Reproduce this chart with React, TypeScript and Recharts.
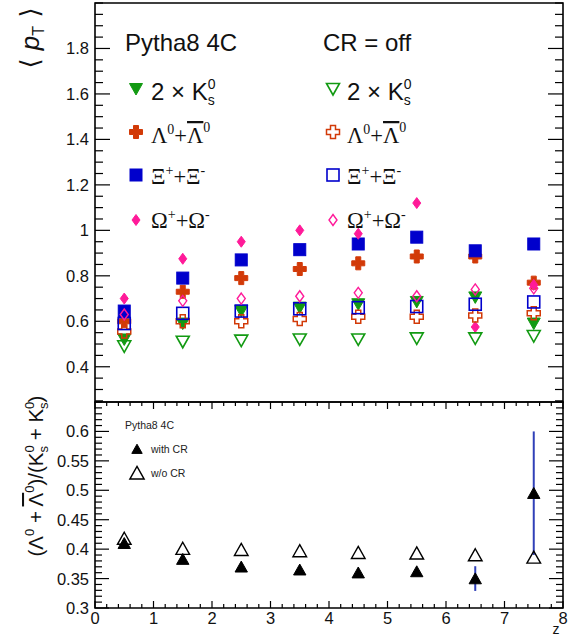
import React from 'react';
import { ScatterChart, Scatter, XAxis, YAxis, ReferenceArea, ErrorBar } from 'recharts';

// bin centres in z
const zBins = [0.5, 1.5, 2.5, 3.5, 4.5, 5.5, 6.5, 7.5];

// <pT>, CR on
const k0sCR = [0.52, 0.59, 0.645, 0.66, 0.675, 0.685, 0.705, 0.59];
const lambdaCR = [0.6, 0.73, 0.79, 0.83, 0.855, 0.885, 0.885, 0.77];
const xiCR = [0.645, 0.79, 0.87, 0.915, 0.94, 0.97, 0.91, 0.94];
const omegaCR = [0.7, 0.875, 0.95, 1.0, 0.985, 1.12, 0.575, 0.76];

// <pT>, CR off
const k0sNoCR = [0.49, 0.51, 0.515, 0.52, 0.52, 0.525, 0.525, 0.535];
const lambdaNoCR = [0.555, 0.6, 0.6, 0.61, 0.62, 0.62, 0.625, 0.635];
const xiNoCR = [0.59, 0.635, 0.645, 0.655, 0.66, 0.665, 0.675, 0.685];
const omegaNoCR = [0.63, 0.69, 0.7, 0.71, 0.725, 0.71, 0.74, 0.745];

// (L + Lbar) / (K0s + K0s)
const ratioCR = [0.41, 0.383, 0.37, 0.365, 0.36, 0.362, 0.35, 0.495];
const ratioCRErr = [0, 0, 0, 0, 0, 0, 0.021, 0.105];
const ratioNoCR = [0.418, 0.401, 0.399, 0.397, 0.394, 0.393, 0.39, 0.386];

// tick labels
const topYLabels = [0.4, 0.6, 0.8, 1, 1.2, 1.4, 1.6, 1.8];
const botYLabels = [0.3, 0.35, 0.4, 0.45, 0.5, 0.55, 0.6];
const xLabels = [0, 1, 2, 3, 4, 5, 6, 7, 8];

const TOP_DOMAIN: [number, number] = [0.245, 2.0];
const BOT_DOMAIN: [number, number] = [0.3, 0.65];
const X_DOMAIN: [number, number] = [0, 8];

const PLOT_W = 468;
const BOT_H = 206;

const GREEN = '#129a12';
const ORANGE = '#d23a08';
const BLUE = '#0000cc';
const PINK = '#ff1a99';
const FONT = '"Liberation Sans", Arial, sans-serif';
const SERIF = '"Liberation Serif", "Times New Roman", serif';

const steps = (from: number, to: number, step: number) => {
  const out: number[] = [];
  const n = Math.round((to - from) / step);
  for (let i = 0; i <= n; i++) out.push(+(from + i * step).toFixed(4));
  return out;
};
const topYTicks = steps(0.25, 2.0, 0.05);
const botYTicks = steps(0.3, 0.65, 0.01);
const xTicks = steps(0, 8, 0.2);

const isIn = (list: number[], v: number) => list.some((m) => Math.abs(m - v) < 1e-6);

const toPts = (vals: number[], errs?: number[]) =>
  zBins.map((z, i) => ({ z, v: vals[i], err: errs ? errs[i] : 0 }));

// ---- markers ----
const triDown = (cx: number, cy: number, c: string, filled: boolean) => (
  <polygon
    points={`${cx - 6.5},${cy - 5.5} ${cx + 6.5},${cy - 5.5} ${cx},${cy + 6}`}
    fill={filled ? c : 'none'}
    stroke={c}
    strokeWidth={filled ? 1 : 1.6}
  />
);
const triUp = (cx: number, cy: number, c: string, filled: boolean, s = 1) => (
  <polygon
    points={`${cx},${cy - 6 * s} ${cx + 6.5 * s},${cy + 5.5 * s} ${cx - 6.5 * s},${cy + 5.5 * s}`}
    fill={filled ? c : 'none'}
    stroke={c}
    strokeWidth={filled ? 1 : 1.4}
  />
);
const cross = (cx: number, cy: number, c: string, filled: boolean) => {
  const s = 6.5;
  const t = 2.5;
  const p = [
    [-t, -s], [t, -s], [t, -t], [s, -t], [s, t], [t, t],
    [t, s], [-t, s], [-t, t], [-s, t], [-s, -t], [-t, -t],
  ]
    .map(([a, b]) => `${cx + a},${cy + b}`)
    .join(' ');
  return <polygon points={p} fill={filled ? c : 'none'} stroke={c} strokeWidth={filled ? 1 : 1.5} />;
};
const square = (cx: number, cy: number, c: string, filled: boolean) => (
  <rect
    x={cx - 6}
    y={cy - 6}
    width={12}
    height={12}
    fill={filled ? c : 'none'}
    stroke={c}
    strokeWidth={filled ? 1 : 1.6}
  />
);
const diamond = (cx: number, cy: number, c: string, filled: boolean) => (
  <polygon
    points={`${cx},${cy - 5.5} ${cx + 4},${cy} ${cx},${cy + 5.5} ${cx - 4},${cy}`}
    fill={filled ? c : 'none'}
    stroke={c}
    strokeWidth={filled ? 1 : 1.4}
  />
);

// ---- ticks (ROOT style, inside the frame) ----
const yTick = (labels: number[], majLen: number, minLen: number) => (props: any) => {
  const { x, y, payload } = props;
  const v = payload.value;
  const maj = isIn(labels, v);
  const len = maj ? majLen : minLen;
  return (
    <g>
      <line x1={x} x2={x + len} y1={y} y2={y} stroke="#000" strokeWidth={1.2} />
      <line x1={x + PLOT_W} x2={x + PLOT_W - len} y1={y} y2={y} stroke="#000" strokeWidth={1.2} />
      {maj && (
        <text x={x - 6} y={y} dy="0.36em" textAnchor="end" fontSize={16.5} fontFamily={FONT} fill="#111">
          {String(v)}
        </text>
      )}
    </g>
  );
};

const topXTick = (props: any) => {
  const { x, y, payload } = props;
  const len = isIn(xLabels, payload.value) ? 9 : 5;
  return <line x1={x} x2={x} y1={y} y2={y + len} stroke="#000" strokeWidth={1.2} />;
};

const botXTick = (props: any) => {
  const { x, y, payload } = props;
  const maj = isIn(xLabels, payload.value);
  const len = maj ? 7 : 4;
  return (
    <g>
      <line x1={x} x2={x} y1={y} y2={y - len} stroke="#000" strokeWidth={1.2} />
      <line x1={x} x2={x} y1={y - BOT_H} y2={y - BOT_H + len} stroke="#000" strokeWidth={1.2} />
      {maj && (
        <text x={x} y={y + 16} textAnchor="middle" fontSize={16.5} fontFamily={FONT} fill="#111">
          {String(payload.value)}
        </text>
      )}
    </g>
  );
};

const sup = 14;

const Legend = () => (
  <svg width={568} height={636} style={{ position: 'absolute', left: 0, top: 0, pointerEvents: 'none' }}>
    {/* y title, top panel */}
    <text transform="translate(39,38) rotate(-90)" textAnchor="middle" fontSize={26} fontFamily="DejaVu Sans, sans-serif" fill="#111">
      {'\u27e8 '}
      <tspan fontStyle="italic" fontFamily={FONT}>p</tspan>
      <tspan fontSize={16} dy={5} fontFamily={FONT}>T</tspan>
      <tspan dy={-5}>{' \u27e9'}</tspan>
    </text>

    {/* y title, bottom panel */}
    <text transform="translate(43,476) rotate(-90)" textAnchor="middle" fontSize={20.5} fontFamily={FONT} fill="#111">
      {'(\u039b'}
      <tspan fontSize={13} dy={-9}>0</tspan>
      <tspan dy={9}>{' + '}</tspan>
      <tspan style={{ textDecoration: 'overline' }}>{'\u039b'}</tspan>
      <tspan fontSize={13} dy={-9}>0</tspan>
      <tspan dy={9}>{')/(K'}</tspan>
      <tspan fontSize={13} dy={-9}>0</tspan>
      <tspan fontSize={13} dx={-7.2} dy={14}>s</tspan>
      <tspan dy={-5}>{' + K'}</tspan>
      <tspan fontSize={13} dy={-9}>0</tspan>
      <tspan fontSize={13} dx={-7.2} dy={14}>s</tspan>
      <tspan dy={-5}>)</tspan>
    </text>

    {/* top panel legend */}
    <text x={125} y={51} fontSize={24} fontFamily={FONT} fill="#111">Pytha8 4C</text>
    <text x={323} y={51} fontSize={24} fontFamily={FONT} fill="#111">CR = off</text>

    {[
      { x: 136, tx: 151, filled: true },
      { x: 333, tx: 347, filled: false },
    ].map((col) => (
      <g key={col.x}>
        {triDown(col.x, 89, GREEN, col.filled)}
        <text x={col.tx} y={100} fontSize={24} fontFamily={FONT} fill="#111">
          {'2 \u00d7 K'}
          <tspan fontSize={sup} dy={-11}>0</tspan>
          <tspan fontSize={sup} dx={-7.8} dy={16}>s</tspan>
        </text>

        {cross(col.x, 132, ORANGE, col.filled)}
        <text x={col.tx} y={143} fontSize={22.5} fontFamily={SERIF} fill="#111">
          {'\u039b'}
          <tspan fontSize={sup} dy={-9}>0</tspan>
          <tspan dy={9}>+</tspan>
          <tspan style={{ textDecoration: 'overline' }}>{'\u039b'}</tspan>
          <tspan fontSize={sup} dy={-11}>0</tspan>
        </text>

        {square(col.x, 175, BLUE, col.filled)}
        <text x={col.tx} y={184} fontSize={22.5} fontFamily={SERIF} fill="#111">
          {'\u039e'}
          <tspan fontSize={sup} dy={-9}>+</tspan>
          <tspan dy={9}>+</tspan>
          {'\u039e'}
          <tspan fontSize={sup} dy={-9}>-</tspan>
        </text>

        {diamond(col.x, 220, PINK, col.filled)}
        <text x={col.tx} y={228} fontSize={22.5} fontFamily={SERIF} fill="#111">
          {'\u03a9'}
          <tspan fontSize={sup} dy={-9}>+</tspan>
          <tspan dy={9}>+</tspan>
          {'\u03a9'}
          <tspan fontSize={sup} dy={-9}>-</tspan>
        </text>
      </g>
    ))}

    {/* bottom panel legend */}
    <text x={125} y={429} fontSize={10.5} fontFamily={FONT} fill="#222">Pytha8 4C</text>
    {triUp(137, 449, '#000', true, 0.8)}
    <text x={151} y={453} fontSize={10.5} fontFamily={FONT} fill="#222">with CR</text>
    {triUp(137, 473, '#000', false, 1.1)}
    <text x={151} y={477} fontSize={10.5} fontFamily={FONT} fill="#222">w/o CR</text>

    {/* x title */}
    <text x={556} y={634} textAnchor="middle" fontSize={14} fontFamily={FONT} fill="#111">z</text>
  </svg>
);

const topSeries = [
  { name: 'k0sCR', vals: k0sCR, draw: (x: number, y: number) => triDown(x, y, GREEN, true) },
  { name: 'lambdaCR', vals: lambdaCR, draw: (x: number, y: number) => cross(x, y, ORANGE, true) },
  { name: 'xiCR', vals: xiCR, draw: (x: number, y: number) => square(x, y, BLUE, true) },
  { name: 'omegaCR', vals: omegaCR, draw: (x: number, y: number) => diamond(x, y, PINK, true) },
  { name: 'k0sNoCR', vals: k0sNoCR, draw: (x: number, y: number) => triDown(x, y, GREEN, false) },
  { name: 'lambdaNoCR', vals: lambdaNoCR, draw: (x: number, y: number) => cross(x, y, ORANGE, false) },
  { name: 'xiNoCR', vals: xiNoCR, draw: (x: number, y: number) => square(x, y, BLUE, false) },
  { name: 'omegaNoCR', vals: omegaNoCR, draw: (x: number, y: number) => diamond(x, y, PINK, false) },
];

export default function App() {
  return (
    <div style={{ position: 'absolute', left: 0, top: 0, width: 568, height: 636, background: '#fff' }}>
      <div style={{ position: 'absolute', left: 0, top: 0 }}>
        <ScatterChart width={568} height={405} margin={{ top: 3, right: 5, bottom: 3, left: 0 }}>
          <XAxis
            type="number"
            dataKey="z"
            domain={X_DOMAIN}
            orientation="top"
            height={0}
            ticks={xTicks}
            interval={0}
            tick={topXTick}
            tickLine={false}
            axisLine={false}
            tickSize={0}
            tickMargin={0}
            allowDataOverflow
          />
          <YAxis
            type="number"
            dataKey="v"
            domain={TOP_DOMAIN}
            width={95}
            ticks={topYTicks}
            interval={0}
            tick={yTick(topYLabels, 15, 8)}
            tickLine={false}
            axisLine={false}
            tickSize={0}
            tickMargin={0}
            allowDataOverflow
          />
          {topSeries.map((s) => (
            <Scatter
              key={s.name}
              name={s.name}
              data={toPts(s.vals)}
              isAnimationActive={false}
              shape={(p: any) => s.draw(p.cx, p.cy)}
            />
          ))}
          <ReferenceArea x1={0} x2={8} y1={TOP_DOMAIN[0]} y2={TOP_DOMAIN[1]} fill="none" fillOpacity={0} stroke="#000" strokeWidth={1.6} />
        </ScatterChart>
      </div>

      <div style={{ position: 'absolute', left: 0, top: 399 }}>
        <ScatterChart width={568} height={237} margin={{ top: 3, right: 5, bottom: 0, left: 0 }}>
          <XAxis
            type="number"
            dataKey="z"
            domain={X_DOMAIN}
            height={28}
            ticks={xTicks}
            interval={0}
            tick={botXTick}
            tickLine={false}
            axisLine={false}
            tickSize={0}
            tickMargin={0}
            allowDataOverflow
          />
          <YAxis
            type="number"
            dataKey="v"
            domain={BOT_DOMAIN}
            width={95}
            ticks={botYTicks}
            interval={0}
            tick={yTick(botYLabels, 14, 7)}
            tickLine={false}
            axisLine={false}
            tickSize={0}
            tickMargin={0}
            allowDataOverflow
          />
          <Scatter
            name="ratioNoCR"
            data={toPts(ratioNoCR)}
            isAnimationActive={false}
            shape={(p: any) => triUp(p.cx, p.cy, '#000', false, 1.05)}
          />
          <Scatter
            name="ratioCR"
            data={toPts(ratioCR, ratioCRErr)}
            isAnimationActive={false}
            shape={(p: any) => triUp(p.cx, p.cy, '#000', true, 0.95)}
          >
            <ErrorBar dataKey="err" direction="y" width={0} stroke="#3040b8" strokeWidth={2} />
          </Scatter>
          <ReferenceArea x1={0} x2={8} y1={BOT_DOMAIN[0]} y2={BOT_DOMAIN[1]} fill="none" fillOpacity={0} stroke="#000" strokeWidth={1.6} />
        </ScatterChart>
      </div>

      <Legend />
    </div>
  );
}
